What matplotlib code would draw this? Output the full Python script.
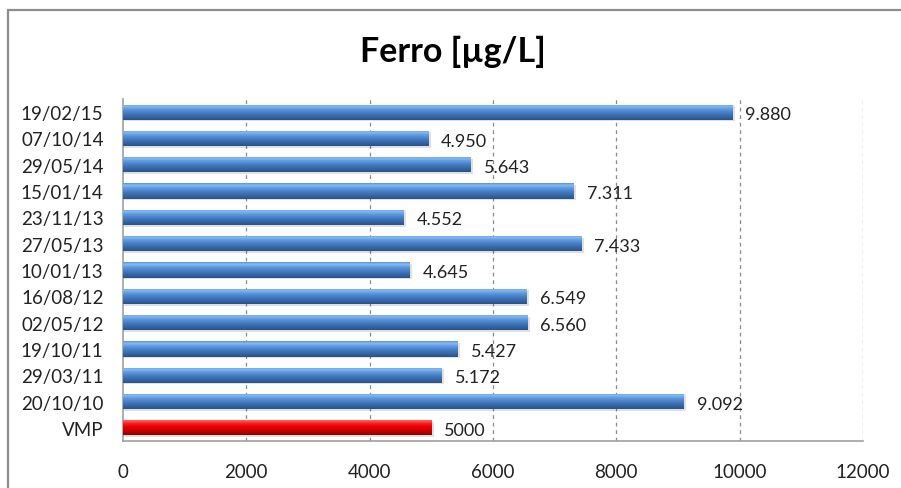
import matplotlib
matplotlib.use("Agg")
import matplotlib.pyplot as plt
import numpy as np
from matplotlib.colors import LinearSegmentedColormap
from matplotlib.patches import Rectangle

categories = ["VMP", "20/10/10", "29/03/11", "19/10/11", "02/05/12", "16/08/12",
              "10/01/13", "27/05/13", "23/11/13", "15/01/14", "29/05/14", "07/10/14", "19/02/15"]
values = [5000, 9092, 5172, 5427, 6560, 6549, 4645, 7433, 4552, 7311, 5643, 4950, 9880]
labels = ["5000", "9.092", "5.172", "5.427", "6.560", "6.549", "4.645", "7.433",
          "4.552", "7.311", "5.643", "4.950", "9.880"]
xticks = [0, 2000, 4000, 6000, 8000, 10000, 12000]
title = "Ferro [µg/L]"

FONT = ["Lato", "DejaVu Sans"]
plt.rcParams["font.family"] = FONT

W, H = 901, 489
fig = plt.figure(figsize=(W / 100, H / 100), dpi=100)
fig.patch.set_facecolor("white")

# outer frame (cropped chart border)
fig.add_artist(Rectangle((8 / W, -0.05), 1.2, (H - 11) / H + 0.05, transform=fig.transFigure,
                         fill=False, edgecolor="#8c8c8c", linewidth=1.6))

ax = fig.add_axes([123 / W, 47 / H, 740 / W, 342 / H])
ax.set_xlim(0, 12000)
ax.set_ylim(-0.5, len(categories) - 0.5)

blue_cmap = LinearSegmentedColormap.from_list(
    "b", [(0.0, "#2a5288"), (0.22, "#3566a6"), (0.5, "#4a82c8"), (0.72, "#64a0e4"),
          (0.86, "#86bcf2"), (1.0, "#5890d4")])
red_cmap = LinearSegmentedColormap.from_list(
    "r", [(0.0, "#8e0000"), (0.25, "#c00000"), (0.55, "#ee0000"), (0.78, "#ff2a2a"),
          (0.9, "#ff6a6a"), (1.0, "#e01010")])

bh = 0.58
ypos = np.arange(len(categories))
bars = ax.barh(ypos, values, height=bh, color="none", edgecolor="none", zorder=3)
grad = np.linspace(0, 1, 256).reshape(-1, 1)
for i, (b, v) in enumerate(zip(bars, values)):
    cmap = red_cmap if categories[i] == "VMP" else blue_cmap
    y0 = b.get_y()
    # shadow
    ax.barh(ypos[i] - 0.06, v + 40, height=bh, color="#000000", alpha=0.12,
            edgecolor="none", zorder=2)
    im = ax.imshow(grad, cmap=cmap, aspect="auto", origin="lower",
                   extent=(0, v, y0, y0 + bh), zorder=3, interpolation="bilinear")
    im.set_clip_path(b)
    ax.text(v + 210, ypos[i] - 0.08, labels[i], va="center", ha="left",
            fontsize=13, color="#222222", zorder=4, family=FONT)

ax.set_xlim(0, 12000)
ax.set_ylim(-0.5, len(categories) - 0.5)

for xv in xticks[1:]:
    ax.axvline(xv, color="#8a8a8a", linestyle=(0, (3, 3)), linewidth=0.9, zorder=1)

ax.set_yticks(ypos)
ax.set_yticklabels(categories, fontsize=13.5, color="#222222")
ax.set_xticks(xticks)
ax.set_xticklabels([str(x) for x in xticks], fontsize=13.5, color="#222222")
ax.tick_params(axis="x", length=0, pad=16)
ax.tick_params(axis="y", length=0, pad=14)
for s in ["top", "right"]:
    ax.spines[s].set_visible(False)
for s in ["left", "bottom"]:
    ax.spines[s].set_color("#a0a0a0")
    ax.spines[s].set_linewidth(1.2)

fig.text(0.503, (H - 52) / H, title, ha="center", va="center", fontsize=24.5,
         fontweight="bold", color="#000000", family=FONT)

fig.savefig("out.png", dpi=100, facecolor="white")
